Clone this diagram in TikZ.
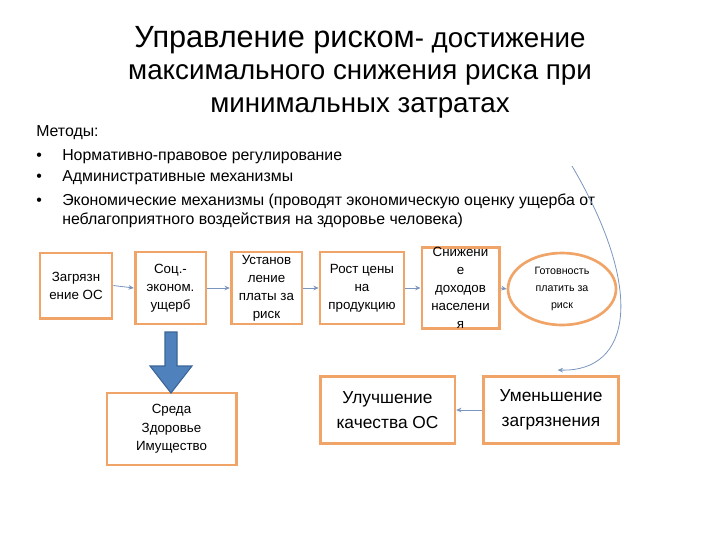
\documentclass[tikz,border=0pt]{standalone}
\usepackage{fontspec}
\setmainfont{Liberation Sans}
\usetikzlibrary{arrows.meta,positioning,shapes.geometric}
\definecolor{RiskOrange}{HTML}{F0A468}
\definecolor{RiskLink}{HTML}{7A96BE}
\definecolor{RiskBlue}{HTML}{4F81BD}
\definecolor{RiskBlueDark}{HTML}{3A6496}

\tikzset{
  chainbox/.style={draw=RiskOrange,line width=2pt,fill=white,align=center,
    inner sep=0pt,font=\fontsize{10}{13.5}\selectfont},
  bigbox/.style={chainbox,font=\fontsize{13}{18.5}\selectfont},
  link/.style={draw=RiskLink,line width=0.6pt,-{Stealth[length=4pt,width=3.5pt]}},
  listline/.style={anchor=base west,inner sep=0pt,font=\fontsize{11.9}{14}\selectfont}
}

\begin{document}
\begin{tikzpicture}[x=0.75pt,y=-0.75pt]
        \useasboundingbox (0,0) rectangle (720,540);

        % title
        \node[align=center,font=\fontsize{20.8}{24.5}\selectfont] (title) at (360,72)
          {{\fontsize{23}{24.5}\selectfont Управление риском}- достижение\\
           максимального снижения риска при\\
           минимальных затратах};

        % methods
        \node[listline] (methods) at (36,136) {Методы:};
        \node[listline] (dot1) at (36,160) {•};
        \node[listline] (meth1) at (62,160) {Нормативно-правовое регулирование};
        \node[listline] (dot2) at (36,181) {•};
        \node[listline] (meth2) at (62,181) {Административные механизмы};
        \node[listline] (dot3) at (36,205) {•};
        \node[listline] (meth3) at (62,205)
          {Экономические механизмы (проводят экономическую оценку ущерба от};
        \node[listline] (meth3b) at (62,224)
          {неблагоприятного воздействия на здоровье человека)};

        % chain of boxes
        \node[chainbox,minimum width=54pt,minimum height=49pt] (pollut) at (76,285.5)
          {Загрязн\\ение ОС};
        \node[chainbox,minimum width=53pt,minimum height=54pt] (damage) at (170.5,288)
          {Соц.-\\эконом.\\ущерб};
        \node[chainbox,minimum width=53pt,minimum height=54pt] (fee) at (266.5,288)
          {Установ\\ление\\платы за\\риск};
        \node[chainbox,minimum width=63pt,minimum height=54pt] (price) at (362,288)
          {Рост цены\\на\\продукцию};
        \node[chainbox,minimum width=58pt,minimum height=54pt] (income) at (460.5,288)
          {Снижени\\е\\доходов\\населени\\я};
        \node[chainbox,ellipse,minimum width=81pt,minimum height=54pt,
          font=\fontsize{8}{12.5}\selectfont] (ready) at (562,289)
          {Готовность\\платить за\\риск};

        \draw[link] (pollut.east) -- (damage.west);
        \draw[link] (damage.east) -- (fee.west);
        \draw[link] (fee.east) -- (price.west);
        \draw[link] (price.east) -- (income.west);
        \draw[link] (income.east) -- (ready.west);

        % lower boxes
        \node[chainbox,minimum width=97pt,minimum height=54pt,
          font=\fontsize{10}{14}\selectfont] (impact) at (171.5,429)
          {Среда\\Здоровье\\Имущество};
        \node[bigbox,minimum width=101pt,minimum height=50pt] (better) at (387.5,410)
          {Улучшение\\качества ОС};
        \node[bigbox,minimum width=101pt,minimum height=50pt] (less) at (551,410)
          {Уменьшение\\загрязнения};

        \draw[link] (less.west) -- (better.east);

        % thick arrow down
        \draw[fill=RiskBlue,draw=RiskBlueDark,line width=0.8pt]
          (165,332) -- (177,332) -- (177,366) -- (192,366) -- (171,393)
          -- (150,366) -- (165,366) -- cycle;

        % long curve
        \coordinate (crvtop) at (572,166);
        \draw[link] (crvtop) .. controls (645,290) and (632,372)
          .. ([xshift=5pt,yshift=4pt]less.north);
      \end{tikzpicture}
\end{document}
